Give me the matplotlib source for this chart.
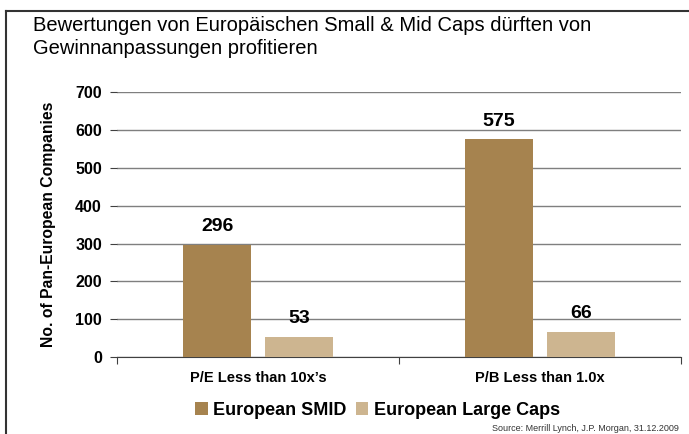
import numpy as np
import matplotlib.pyplot as plt
from matplotlib.lines import Line2D

plt.rcParams['font.family'] = ['Liberation Sans', 'DejaVu Sans']

categories = ["P/E Less than 10x\u2019s", "P/B Less than 1.0x"]
smid = [296, 575]
large = [53, 66]
series_names = ["European SMID", "European Large Caps"]
colors = ["#A6834F", "#CDB590"]

fig = plt.figure(figsize=(6.89, 4.34), dpi=100)
ax = fig.add_axes([0.170, 0.177, 0.818, 0.611])

x = np.arange(len(categories))
w = 0.24
gap = 0.05
b1 = ax.bar(x - (w + gap) / 2, smid, w, color=colors[0], label=series_names[0], zorder=3)
b2 = ax.bar(x + (w + gap) / 2, large, w, color=colors[1], label=series_names[1], zorder=3)

for bars in (b1, b2):
    for r in bars:
        ax.text(r.get_x() + r.get_width() / 2, r.get_height() + 26, str(int(r.get_height())),
                ha='center', va='bottom', fontsize=14, fontweight='bold')

ax.set_xlim(-0.5, 1.5)
ax.set_ylim(0, 700)
ax.set_yticks(range(0, 701, 100))
ax.yaxis.grid(True, color='#7f7f7f', linewidth=1, zorder=0)
ax.set_axisbelow(True)
for s in ['top', 'right', 'left']:
    ax.spines[s].set_visible(False)
ax.spines['bottom'].set_color('#404040')

ax.set_xticks([-0.5, 0.5, 1.5])
ax.set_xticklabels([])
ax.set_xticks(x, minor=True)
ax.set_xticklabels(categories, minor=True, fontsize=10.5, fontweight='bold')
ax.tick_params(axis='x', which='major', length=5, color='#404040')
ax.tick_params(axis='x', which='minor', length=0, pad=10)
ax.tick_params(axis='y', length=5, color='#404040', labelsize=11.5, pad=6)
for lab in ax.get_yticklabels():
    lab.set_fontweight('bold')
ax.set_ylabel("No. of Pan-European Companies", fontsize=11.3, fontweight='bold', labelpad=14)

fig.legend(loc='center', bbox_to_anchor=(0.548, 0.055), ncol=2, frameon=False,
           prop={'size': 13, 'weight': 'bold'}, handlelength=0.7, handleheight=0.7,
           handletextpad=0.3, columnspacing=0.5, borderpad=0)

fig.text(0.048, 0.962, "Bewertungen von Europäischen Small & Mid Caps dürften von\nGewinnanpassungen profitieren",
         fontsize=14.5, va='top', ha='left', linespacing=1.25)
fig.text(0.986, 0.022, "Source: Merrill Lynch, J.P. Morgan, 31.12.2009", fontsize=6.5,
         ha='right', va='top', color='#333333')

fig.add_artist(Line2D([0.009, 1.0], [0.975, 0.975], color='#333333', linewidth=1.5, transform=fig.transFigure))
fig.add_artist(Line2D([0.009, 0.009], [0.0, 0.975], color='#333333', linewidth=1.5, transform=fig.transFigure))

fig.savefig("out.png", dpi=100)
